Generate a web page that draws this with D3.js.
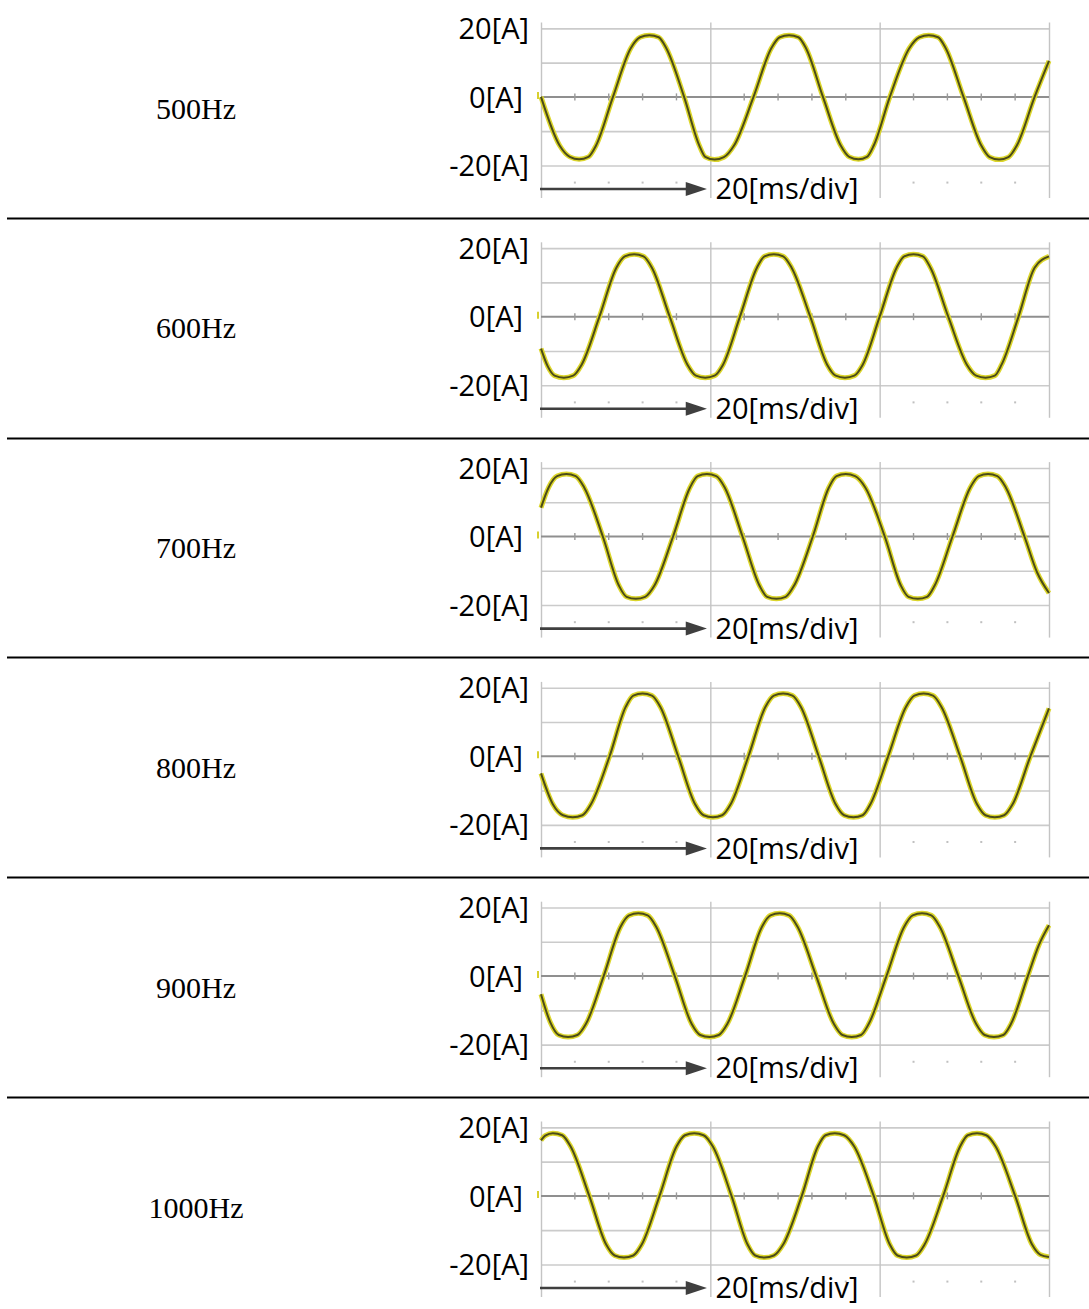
<!DOCTYPE html>
<html><head><meta charset="utf-8">
<script src="https://cdn.jsdelivr.net/npm/d3@7"></script>
<style>body{margin:0;background:#fff} svg{display:block}</style>
</head><body>
<svg id="c" width="1089" height="1309"></svg>
<script>
// ---- data ----
const freqLabels = ["500Hz","600Hz","700Hz","800Hz","900Hz","1000Hz"];
const yTickValues = [20, 0, -20];
const yTickLabels = ["20[A]", "0[A]", "-20[A]"];
const gridValues = [20, 10, -10, -20];
const timeDivs = [0, 20, 40, 60];
const minorTicks = [4, 8, 12, 16, 24, 28, 32, 36, 44, 48, 52, 56];
const timeLabel = "20[ms/div]";

// [time ms, current A]
const wave500 = [[0,0],[2.2,-14.2],[3.4,-17.5],[4.5,-18.2],[5.6,-17.5],[6.5,-14.2],[8.5,0],
  [10.6,14.2],[11.7,17.4],[12.8,18.0],[13.9,17.4],[14.8,14.2],[16.9,0],
  [18.7,-14.2],[19.4,-17.5],[20.5,-18.3],[21.6,-17.6],[22.8,-14.2],[25.1,0],
  [27.2,14.2],[28.2,17.4],[29.3,18.0],[30.4,17.4],[31.3,14.2],[33.3,0],
  [35.4,-14.2],[36.4,-17.5],[37.5,-18.2],[38.5,-17.5],[39.3,-14.2],[41.2,0],
  [43.5,14.2],[44.7,17.4],[45.8,18.0],[46.9,17.4],[47.8,14.2],[49.9,0],
  [52.0,-14.2],[53.0,-17.6],[54.1,-18.3],[55.2,-17.6],[56.2,-14.2],[58.3,0],[60,10.5]];
const wave600 = [[0,-9.3],[0.8,-14.5],[1.6,-17.2],[2.7,-17.8],[3.8,-17.2],[4.8,-14],[6.9,0],
  [8.9,14.3],[9.9,17.6],[11.0,18.2],[12.1,17.6],[13.1,14.3],[15.2,0],
  [17.3,-14],[18.3,-17.2],[19.4,-17.8],[20.5,-17.2],[21.5,-14],[23.5,0],
  [25.5,14.3],[26.4,17.6],[27.5,18.2],[28.6,17.6],[29.6,14.3],[31.8,0],
  [33.8,-14],[34.8,-17.2],[35.9,-17.8],[37.0,-17.2],[38.0,-14],[40.0,0],
  [42.0,14.3],[42.9,17.6],[44.0,18.2],[45.1,17.6],[46.0,14.3],[48.1,0],
  [50.3,-14],[51.4,-17.2],[52.5,-17.8],[53.6,-17.2],[54.4,-14],[56.4,0],
  [58.3,14.3],[60,17.6]];
const wave700 = [[0,8.4],[0.9,14.3],[1.9,17.6],[3.0,18.2],[4.1,17.6],[5.1,14.3],[7.3,0],
  [9.2,-14.3],[10.1,-17.6],[11.2,-18.2],[12.3,-17.6],[13.4,-14.3],[15.6,0],
  [17.6,14.3],[18.5,17.6],[19.6,18.2],[20.7,17.6],[21.7,14.3],[23.8,0],
  [25.8,-14.3],[26.7,-17.6],[27.8,-18.2],[28.9,-17.6],[29.9,-14.3],[32.1,0],
  [34.0,14.3],[34.9,17.6],[36.0,18.2],[37.1,17.6],[38.3,14.3],[40.6,0],
  [42.5,-14.3],[43.4,-17.6],[44.5,-18.2],[45.6,-17.6],[46.5,-14.3],[48.6,0],
  [50.7,14.3],[51.7,17.6],[52.8,18.2],[53.9,17.6],[54.9,14.3],[57.1,0],
  [58.6,-10.5],[60,-16.5]];
const wave800 = [[0,-5],[1.4,-14],[2.6,-17.2],[3.75,-17.8],[4.9,-17.2],[5.9,-14],[8.1,0],
  [10.0,14.4],[10.9,17.7],[12.0,18.3],[13.1,17.7],[14.1,14.4],[16.2,0],
  [18.2,-14],[19.2,-17.2],[20.3,-17.8],[21.4,-17.2],[22.4,-14],[24.5,0],
  [26.5,14.4],[27.5,17.7],[28.6,18.3],[29.7,17.7],[30.7,14.4],[32.8,0],
  [34.8,-14],[35.8,-17.2],[36.9,-17.8],[38.0,-17.2],[38.9,-14],[41.0,0],
  [43.1,14.4],[44.1,17.7],[45.2,18.3],[46.3,17.7],[47.3,14.4],[49.5,0],
  [51.5,-14],[52.5,-17.2],[53.6,-17.8],[54.7,-17.2],[55.7,-14],[57.8,0],[60,14]];
const wave900 = [[0,-5.3],[1.1,-13.5],[2.1,-17.2],[3.2,-17.8],[4.3,-17.2],[5.3,-14],[7.4,0],
  [9.4,14.4],[10.4,17.7],[11.5,18.3],[12.6,17.7],[13.6,14.4],[15.8,0],
  [17.8,-14],[18.8,-17.2],[19.9,-17.8],[21.0,-17.2],[22.0,-14],[24.1,0],
  [26.1,14.4],[27.1,17.7],[28.2,18.3],[29.3,17.7],[30.3,14.4],[32.5,0],
  [34.6,-14],[35.6,-17.2],[36.7,-17.8],[37.8,-17.2],[38.7,-14],[40.8,0],
  [42.9,14.4],[43.9,17.7],[45.0,18.3],[46.1,17.7],[47.1,14.4],[49.3,0],
  [51.4,-14],[52.4,-17.2],[53.5,-17.8],[54.6,-17.2],[55.5,-14],[57.5,0],[58.8,9],[60,14.8]];
const wave1000 = [[0,16.2],[0.5,17.6],[1.4,18.3],[2.5,17.7],[3.5,14.4],[5.7,0],
  [7.7,-14.2],[8.7,-17.4],[9.8,-18.0],[10.9,-17.4],[11.9,-14.2],[14.0,0],
  [16.0,14.4],[17.0,17.7],[18.1,18.3],[19.2,17.7],[20.3,14.4],[22.5,0],
  [24.4,-14.2],[25.3,-17.4],[26.4,-18.0],[27.5,-17.4],[28.6,-14.2],[30.8,0],
  [32.7,14.4],[33.6,17.7],[34.7,18.3],[35.8,17.7],[37.0,14.4],[39.3,0],
  [41.2,-14.2],[42.1,-17.4],[43.2,-18.0],[44.3,-17.4],[45.3,-14.2],[47.5,0],
  [49.5,14.4],[50.4,17.7],[51.5,18.3],[52.6,17.7],[53.7,14.4],[56.0,0],
  [58.0,-14.2],[59.0,-17.2],[60,-17.8]];
const waves = [wave500, wave600, wave700, wave800, wave900, wave1000];

// ---- drawing ----
const svg = d3.select("#c");
const rowH = 219.8;
const plotLeft = 541, plotRight = 1049;
const x = d3.scaleLinear().domain([0, 60]).range([plotLeft, plotRight]);
const sans = "'Open Sans','Noto Sans',sans-serif";

// separators
[1,2,3,4,5].forEach(i => {
  const yy = Math.round(i * rowH) - 1.5;
  svg.append("line").attr("x1", 7).attr("x2", 1089).attr("y1", yy).attr("y2", yy)
    .attr("stroke", "#000").attr("stroke-width", 2.2);
});

waves.forEach((wave, i) => {
  const zero = 97 + i * rowH;
  const y = d3.scaleLinear().domain([-29.5, 21.7]).range([zero + 101, zero - 74.5]);
  const g = svg.append("g");

  // left frequency label
  g.append("text").attr("x", 196).attr("y", zero + 11).attr("text-anchor", "middle")
    .attr("dominant-baseline", "central")
    .style("font-family", "'Liberation Serif','Times New Roman',serif").style("font-size", "30px")
    .text(freqLabels[i]);

  // horizontal light grid
  g.append("g").attr("transform", `translate(${plotLeft},0)`)
    .call(d3.axisLeft(y).tickValues(gridValues).tickSize(-(plotRight - plotLeft)).tickFormat(""))
    .call(a => a.select(".domain").remove())
    .call(a => a.selectAll("line").attr("stroke", "#cbcbcb").attr("stroke-width", 1.6));

  // vertical grid
  g.append("g").attr("transform", `translate(0,${y(-29.5)})`)
    .call(d3.axisBottom(x).tickValues(timeDivs).tickSize(-(y(-29.5) - y(21.7))).tickFormat(""))
    .call(a => a.select(".domain").remove())
    .call(a => a.selectAll("line").attr("stroke", "#c4c4c4").attr("stroke-width", 1.4));

  // zero line with minor ticks
  g.append("line").attr("x1", plotLeft).attr("x2", plotRight).attr("y1", y(0)).attr("y2", y(0))
    .attr("stroke", "#8f8f8f").attr("stroke-width", 2);
  g.selectAll(".mt").data(minorTicks).enter().append("line")
    .attr("x1", d => x(d)).attr("x2", d => x(d)).attr("y1", y(0) - 3.5).attr("y2", y(0) + 3.5)
    .attr("stroke", "#9a9a9a").attr("stroke-width", 1.4);
  // bottom dot row
  g.selectAll(".dt").data(minorTicks).enter().append("rect")
    .attr("x", d => x(d) - 1).attr("y", y(-25) - 1).attr("width", 2).attr("height", 2)
    .attr("fill", "#c0c0c0");

  // channel marker
  g.append("line").attr("x1", plotLeft - 3).attr("x2", plotLeft - 3).attr("y1", y(0) - 5).attr("y2", y(0) + 2)
    .attr("stroke", "#d8d030").attr("stroke-width", 2);

  // y labels
  g.append("g").attr("transform", `translate(${plotLeft},0)`)
    .call(d3.axisLeft(y).tickValues(yTickValues).tickSize(0).tickPadding(12)
      .tickFormat((d, k) => yTickLabels[k]))
    .call(a => a.select(".domain").remove())
    .call(a => a.selectAll("text")
      .attr("dx", d => d === 0 ? -6 : 0).attr("dy", "0.35em")
      .attr("fill", "#000")
      .style("font-family", sans).style("font-size", "29px"));

  // waveform
  const line = d3.line().x(d => x(d[0])).y(d => y(d[1])).curve(d3.curveMonotoneX);
  g.append("path").datum(wave).attr("d", line).attr("fill", "none")
    .attr("stroke", "#dcd62c").attr("stroke-width", 5).attr("stroke-linejoin", "round");
  g.append("path").datum(wave).attr("d", line).attr("fill", "none")
    .attr("stroke", "#4b4b18").attr("stroke-width", 2).attr("stroke-linejoin", "round");

  // time arrow
  const ay = zero + 92;
  g.append("line").attr("x1", x(0) - 1).attr("x2", x(17.2)).attr("y1", ay).attr("y2", ay)
    .attr("stroke", "#3f3f3f").attr("stroke-width", 2.6);
  g.append("path")
    .attr("d", `M${x(17.1)},${ay - 7}L${x(19.6)},${ay}L${x(17.1)},${ay + 7}Z`)
    .attr("fill", "#3f3f3f");
  g.append("text").attr("x", x(20.6)).attr("y", ay).attr("dy", "0.35em")
    .style("font-family", sans).style("font-size", "29px")
    .text(timeLabel);
});
</script>
</body></html>
